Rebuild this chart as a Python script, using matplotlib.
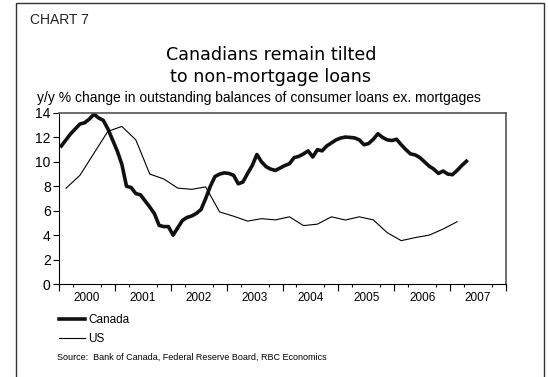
import numpy as np
import matplotlib
matplotlib.use('Agg')
import matplotlib.pyplot as plt
from matplotlib.patches import Rectangle

# Canada: monthly, Jan 2000 - Apr 2007 (y/y % change)
canada = [11.3, 11.8, 12.3, 12.7, 13.1, 13.2, 13.5, 13.9, 13.6, 13.4, 12.7, 11.8,
          10.9, 9.8, 8.0, 7.9, 7.4, 7.3, 6.8, 6.3, 5.75, 4.8, 4.7, 4.7,
          4.0, 4.6, 5.2, 5.45, 5.57, 5.78, 6.1, 7.0, 8.0, 8.8, 9.0, 9.1,
          9.05, 8.9, 8.2, 8.35, 9.05, 9.7, 10.6, 10.0, 9.6, 9.4, 9.3, 9.5,
          9.7, 9.85, 10.35, 10.45, 10.65, 10.9, 10.4, 11.0, 10.9, 11.3, 11.55, 11.8,
          11.95, 12.03, 12.0, 11.96, 11.8, 11.4, 11.5, 11.85, 12.3, 12.0, 11.8, 11.75,
          11.85, 11.4, 11.0, 10.65, 10.57, 10.35, 10.0, 9.65, 9.4, 9.05, 9.25, 9.0,
          8.95, 9.3, 9.7, 10.05]
# US: quarterly, Q1 2000 - Q1 2007
us = [7.84, 8.9, 10.7, 12.5, 12.9, 11.8, 9.0, 8.6,
      7.85, 7.75, 7.95, 5.9, 5.55, 5.15, 5.35, 5.25,
      5.5, 4.78, 4.9, 5.5, 5.24, 5.5, 5.25, 4.2,
      3.55, 3.8, 4.0, 4.5, 5.1]
years = list(range(2000, 2008))

canada_x = 2000 + (np.arange(len(canada)) + 0.5) / 12
us_x = 2000.125 + 0.25 * np.arange(len(us))

sans = ['Liberation Sans', 'DejaVu Sans']

fig = plt.figure(figsize=(5.48, 3.77), dpi=100)
fig.patches.append(Rectangle((16 / 548, -0.05), (544 - 16) / 548, 1.05 - 2.5 / 377,
                             transform=fig.transFigure, fill=False,
                             edgecolor='#333333', linewidth=1.0))

ax = fig.add_axes([59 / 548, 1 - 284 / 377, (506 - 59) / 548, (284 - 113) / 377])
l1, = ax.plot(canada_x, canada, color='#111111', linewidth=2.6, solid_joinstyle='round')
l2, = ax.plot(us_x, us, color='black', linewidth=0.8)

ax.set_xlim(2000, 2008)
ax.set_ylim(0, 14)
ax.set_yticks(range(0, 15, 2))
ax.set_yticklabels([str(v) for v in range(0, 15, 2)], family=sans, fontsize=10)
ax.tick_params(axis='y', direction='out', length=4, width=0.8, pad=2)

ax.set_xticks([y + 0.5 for y in years])
ax.set_xticklabels([str(y) for y in years], family=sans, fontsize=8.5)
ax.tick_params(axis='x', which='major', length=0, pad=6)
ax.set_xticks(np.arange(2000, 2008.01, 0.25), minor=True)
ax.tick_params(axis='x', which='minor', direction='out', length=2.5, width=0.8)
sec = ax.secondary_xaxis('bottom')
sec.set_xticks(years + [2008])
sec.set_xticklabels([])
sec.tick_params(direction='out', length=5, width=0.8)
sec.spines['bottom'].set_visible(False)

for s in ['top', 'right']:
    ax.spines[s].set_color('#555555')
    ax.spines[s].set_linewidth(1.2)
for s in ['left', 'bottom']:
    ax.spines[s].set_color('black')
    ax.spines[s].set_linewidth(0.8)

fig.text(30 / 548, 1 - 20 / 377, 'CHART 7', fontsize=10, family='Liberation Sans',
         va='center', ha='left', color='#222222')
fig.text(271 / 548, 1 - 66 / 377, 'Canadians remain tilted\nto non-mortgage loans',
         fontsize=12.6, family='DejaVu Sans', ha='center', va='center', linespacing=1.35)
fig.text(37 / 548, 1 - 98 / 377,
         'y/y % change in outstanding balances of consumer loans ex. mortgages',
         fontsize=10, family=sans, ha='left', va='center')

fig.legend([l1, l2], ['Canada', 'US'], loc='upper left',
           bbox_to_anchor=(59 / 548, 1 - 314 / 377), frameon=False,
           prop={'family': sans, 'size': 8.5}, handlelength=2.2,
           handletextpad=0.3, labelspacing=0.6, borderaxespad=0, borderpad=0)

fig.text(57 / 548, 1 - 357 / 377,
         'Source:  Bank of Canada, Federal Reserve Board, RBC Economics',
         fontsize=6.5, family=sans, ha='left', va='center')

fig.savefig('out.png', dpi=100)
